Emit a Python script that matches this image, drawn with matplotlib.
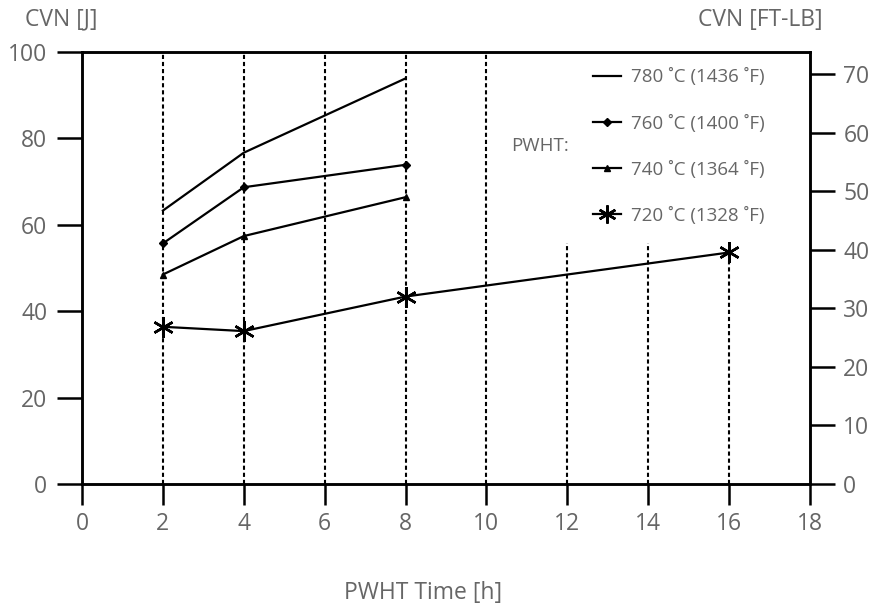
import matplotlib
matplotlib.use("Agg")
import matplotlib.pyplot as plt
from matplotlib.lines import Line2D

plt.rcParams['font.family'] = ['Open Sans', 'DejaVu Sans']

# PWHT time [h] and Charpy energy [J] for each temperature
t_short = [2, 4, 8]
t_long = [2, 4, 8, 16]
cvn_780 = [63.3, 76.7, 93.9]
cvn_760 = [55.7, 68.7, 73.9]
cvn_740 = [48.5, 57.4, 66.4]
cvn_720 = [36.4, 35.4, 43.4, 53.6]

labels = ["780 \u02daC (1436 \u02daF)", "760 \u02daC (1400 \u02daF)",
          "740 \u02daC (1364 \u02daF)", "720 \u02daC (1328 \u02daF)"]

# dashed guides: x position and top of each guide [J]
guide_x = [2, 4, 6, 8, 10, 12, 14, 16]
guide_top = [100, 100, 100, 100, 100, 55.8, 55.8, cvn_720[-1]]

J_PER_FTLB = 1.3558
grey = "#666666"

fig = plt.figure(figsize=(8.69, 6.13), dpi=100)
ax = fig.add_axes([0.0944, 0.2104, 0.8377, 0.7047])

for x, top in zip(guide_x, guide_top):
    ax.vlines(x, 0, top, colors="black", linestyles=(0, (2, 1.4)), lw=1.5, zorder=1)

ax.plot(t_short, cvn_780, color="black", lw=1.6, zorder=3)
ax.plot(t_short, cvn_760, color="black", lw=1.6, marker="D", ms=4.5, zorder=3)
ax.plot(t_short, cvn_740, color="black", lw=1.6, marker="^", ms=5, zorder=3)
ax.plot(t_long, cvn_720, color="black", lw=1.6, marker=(6, 2, 0), ms=15, mew=1.8, zorder=3)

ax.set_xlim(0, 18)
ax.set_ylim(0, 100)
ax.set_xticks(range(0, 19, 2))
ax.set_yticks(range(0, 101, 20))
ax.tick_params(axis="y", direction="out", length=18, width=1.8, pad=7,
               labelsize=16.5, labelcolor=grey)
ax.tick_params(axis="x", direction="out", length=15, width=1.8, pad=5,
               labelsize=16.5, labelcolor=grey)
for s in ax.spines.values():
    s.set_linewidth(1.8)

ax2 = ax.twinx()
ax2.set_ylim(0, 100 / J_PER_FTLB)
ax2.set_yticks(range(0, 71, 10))
ax2.tick_params(axis="y", direction="out", length=18, width=1.8, pad=6,
                labelsize=16.5, labelcolor=grey)
for s in ax2.spines.values():
    s.set_linewidth(1.8)

handles = [
    Line2D([], [], color="black", lw=1.6),
    Line2D([], [], color="black", lw=1.6, marker="D", ms=4),
    Line2D([], [], color="black", lw=1.6, marker="^", ms=4.5),
    Line2D([], [], color="black", lw=1.6, marker=(6, 2, 0), ms=13, mew=1.8),
]
leg = ax.legend(handles, labels, loc="upper left", bbox_to_anchor=(0.702, 0.962),
                frameon=False, fontsize=13.5, handlelength=1.5, handletextpad=0.55,
                labelspacing=1.5, borderpad=0, borderaxespad=0)
for txt in leg.get_texts():
    txt.set_color(grey)

ax.text(0.589, 0.782, "PWHT:", transform=ax.transAxes, fontsize=13.5,
        color=grey, ha="left", va="center")

fig.text(0.071, 0.968, "CVN [J]", fontsize=16.5, color=grey, ha="center", va="center")
fig.text(0.875, 0.968, "CVN [FT-LB]", fontsize=16.5, color=grey, ha="center", va="center")
fig.text(0.487, 0.033, "PWHT Time [h]", fontsize=16.5, color=grey, ha="center", va="center")

fig.savefig("out.png", dpi=100)
